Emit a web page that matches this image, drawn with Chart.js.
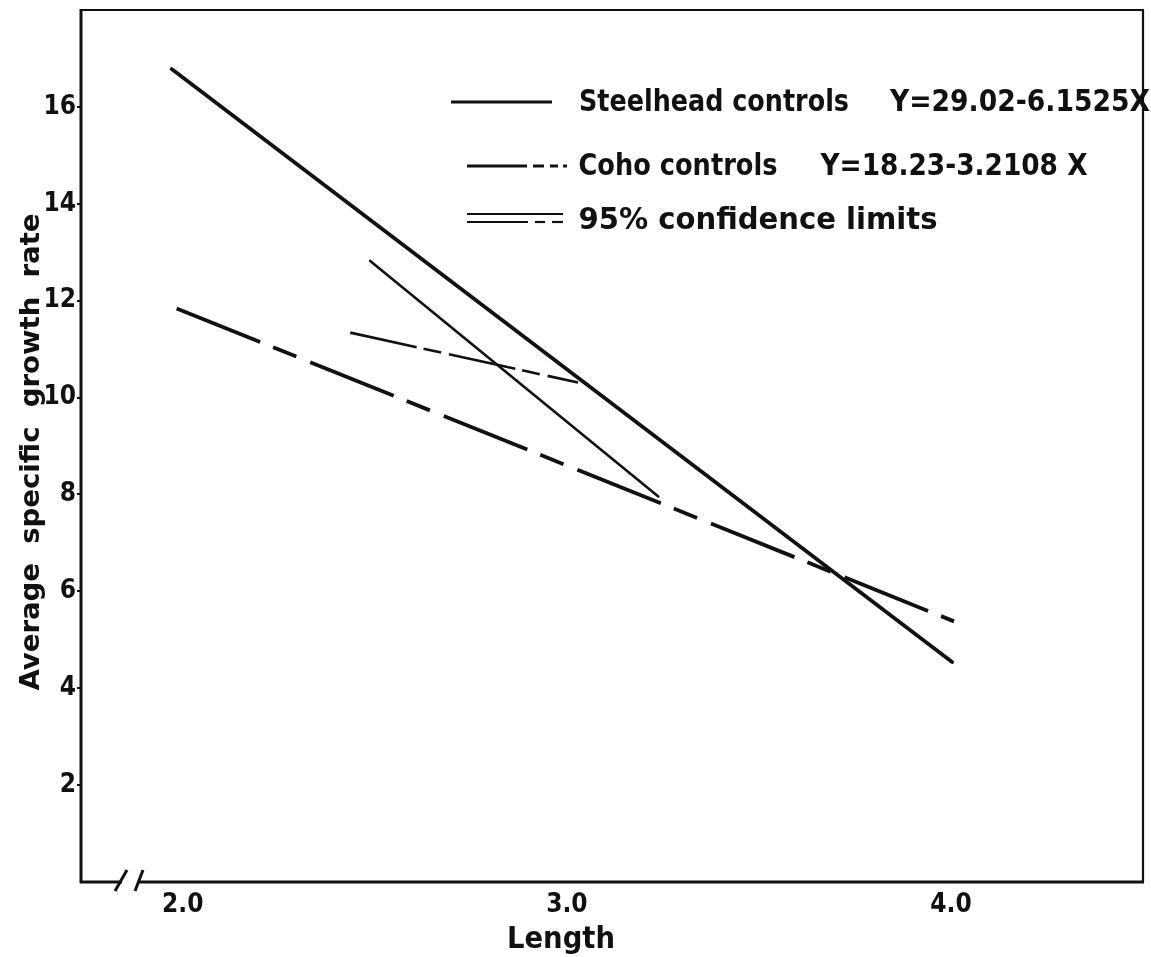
<!DOCTYPE html>
<html>
<head>
<meta charset="utf-8">
<script src="https://cdn.jsdelivr.net/npm/chart.js@4.4.1/dist/chart.umd.min.js"></script>
<style>
  html, body { margin: 0; padding: 0; background: #ffffff; }
  #wrap { width: 1151px; height: 957px; }
</style>
</head>
<body>
<div id="wrap"><canvas id="c" width="1151" height="957"></canvas></div>
<script>
// ---- data ----
const lengthTicks = [2.0, 3.0, 4.0];
const rateTicks = [2, 4, 6, 8, 10, 12, 14, 16];

const steelheadLength = [1.971, 4.003];
const steelheadRate   = [16.78, 4.54];

const cohoLength = [1.984, 4.008];
const cohoRate   = [11.84, 5.38];

const ciSolidLength = [2.488, 3.238];
const ciSolidRate   = [12.82, 7.96];

const ciDashLength = [2.436, 3.029];
const ciDashRate   = [11.34, 10.31];

const legendLabels    = ['Steelhead controls', 'Coho controls', '95% confidence limits'];
const legendEquations = ['Y=29.02-6.1525X', 'Y=18.23-3.2108 X', ''];
const xTitle = 'Length';
const yTitle = 'Average  specific  growth  rate';

const pts = (xs, ys) => xs.map((x, i) => ({ x: x, y: ys[i] }));

const FONT_FAMILY = "'DejaVu Sans Condensed', 'DejaVu Sans', sans-serif";
const INK = '#111111';

function fitText(ctx, text, cx, cy, width, font, rot) {
  ctx.save();
  ctx.translate(cx, cy);
  if (rot) ctx.rotate(rot);
  ctx.font = font;
  const w = ctx.measureText(text).width;
  ctx.scale(width / w, 1);
  ctx.fillStyle = INK;
  ctx.textAlign = 'center';
  ctx.textBaseline = 'middle';
  ctx.fillText(text, 0, 0);
  ctx.restore();
}

function seg(ctx, x1, y1, x2, y2, w, dash) {
  ctx.save();
  ctx.strokeStyle = INK;
  ctx.lineWidth = w;
  ctx.lineCap = 'butt';
  ctx.setLineDash(dash || []);
  ctx.beginPath();
  ctx.moveTo(x1, y1);
  ctx.lineTo(x2, y2);
  ctx.stroke();
  ctx.restore();
}

const decorPlugin = {
  id: 'decor',
  afterDraw(chart) {
    const ctx = chart.ctx;
    const a = chart.chartArea;
    // frame
    seg(ctx, a.left, a.top - 1, a.left, a.bottom + 1, 3);
    seg(ctx, a.left - 1, a.top, a.right + 1, a.top, 2.2);
    seg(ctx, a.right, a.top, a.right, a.bottom, 2.2);
    // bottom axis with break marks
    seg(ctx, a.left - 1, a.bottom, a.left + 41, a.bottom, 3);
    seg(ctx, a.left + 57, a.bottom, a.right + 1, a.bottom, 3);
    seg(ctx, a.left + 34, a.bottom + 9, a.left + 46, a.bottom - 12, 3);
    seg(ctx, a.left + 54, a.bottom + 9, a.left + 62, a.bottom - 12, 3);

    // axis titles
    fitText(ctx, xTitle, 561, 940, 108, 'bold 31px ' + FONT_FAMILY);
    fitText(ctx, yTitle, 32, 452, 477, 'bold 27px ' + FONT_FAMILY, -Math.PI / 2);

    // legend
    const lf = 'bold 30px ' + FONT_FAMILY;
    // row 1: solid
    seg(ctx, 451, 102, 552, 102, 3);
    fitText(ctx, legendLabels[0], 714, 103, 270, lf);
    fitText(ctx, legendEquations[0], 1020, 103, 260, lf);
    // row 2: long-short dashes
    seg(ctx, 467, 166, 527, 166, 3);
    seg(ctx, 533, 166, 544, 166, 3);
    seg(ctx, 550, 166, 558, 166, 3);
    seg(ctx, 563, 166, 567, 166, 3);
    fitText(ctx, legendLabels[1], 678, 167, 199, lf);
    fitText(ctx, legendEquations[1], 954, 167, 267, lf);
    // row 3: double (solid over dashed)
    seg(ctx, 467, 214, 563, 214, 2.2);
    seg(ctx, 467, 222, 528, 222, 2.2);
    seg(ctx, 535, 222, 545, 222, 2.2);
    seg(ctx, 552, 222, 563, 222, 2.2);
    fitText(ctx, legendLabels[2], 758, 221, 359, lf);
  }
};

const tickFont = { family: FONT_FAMILY, size: 26, weight: 'bold' };

new Chart(document.getElementById('c'), {
  type: 'line',
  data: {
    datasets: [
      { label: legendLabels[0], data: pts(steelheadLength, steelheadRate),
        borderColor: INK, borderWidth: 3.8, pointRadius: 0, borderCapStyle: 'round', tension: 0 },
      { label: legendLabels[1], data: pts(cohoLength, cohoRate),
        borderColor: INK, borderWidth: 3.8, pointRadius: 0, borderDash: [90, 14, 25, 15], borderCapStyle: 'butt', tension: 0 },
      { label: legendLabels[2] + ' (steelhead)', data: pts(ciSolidLength, ciSolidRate),
        borderColor: INK, borderWidth: 2.6, pointRadius: 0, borderCapStyle: 'round', tension: 0 },
      { label: legendLabels[2] + ' (coho)', data: pts(ciDashLength, ciDashRate),
        borderColor: INK, borderWidth: 2.6, pointRadius: 0, borderDash: [68, 7, 18, 8], borderCapStyle: 'butt', tension: 0 }
    ]
  },
  options: {
    responsive: false,
    animation: false,
    devicePixelRatio: 1,
    layout: { padding: { top: 10, right: 8, left: 0, bottom: 0 } },
    plugins: { legend: { display: false }, tooltip: { enabled: false } },
    scales: {
      x: {
        type: 'linear', min: 1.735, max: 4.5,
        afterBuildTicks: (s) => { s.ticks = lengthTicks.map(v => ({ value: v })); },
        afterFit: (s) => { s.height = 75; s.paddingLeft = 0; s.paddingRight = 0; },
        grid: { display: false },
        border: { display: false },
        ticks: { color: INK, font: tickFont, padding: 0, maxRotation: 0,
                 callback: (v) => Number(v).toFixed(1) }
      },
      y: {
        type: 'linear', min: 0, max: 18,
        afterBuildTicks: (s) => { s.ticks = rateTicks.map(v => ({ value: v })); },
        afterFit: (s) => { s.width = 81; s.paddingTop = 0; s.paddingBottom = 0; },
        grid: { display: true, drawOnChartArea: false, drawTicks: true, tickLength: 4, color: INK, lineWidth: 2 },
        border: { display: false },
        ticks: { color: INK, font: tickFont, padding: 1 }
      }
    }
  },
  plugins: [decorPlugin]
});
</script>
</body>
</html>
